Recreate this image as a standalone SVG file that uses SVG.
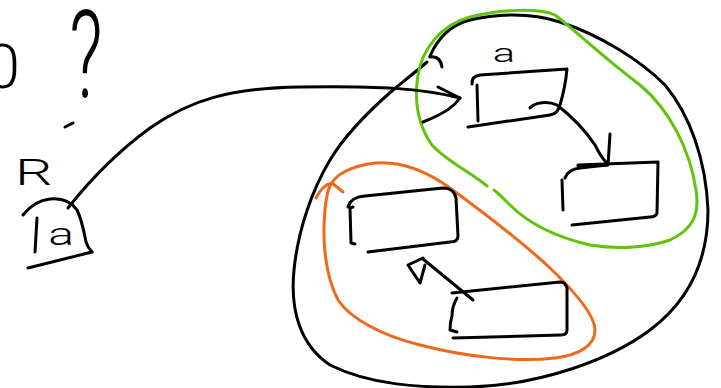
<svg xmlns="http://www.w3.org/2000/svg" width="721" height="388" viewBox="0 0 721 388">
<style>
.s{fill:none;stroke:#000;stroke-width:3;stroke-linecap:round;stroke-linejoin:round}
.g{fill:none;stroke:#5fc40a;stroke-width:3;stroke-linecap:round;stroke-linejoin:round}
.o{fill:none;stroke:#f0691a;stroke-width:3;stroke-linecap:round;stroke-linejoin:round}
.t{font-family:Roboto,"Liberation Sans",sans-serif;fill:#000;font-weight:300}
</style>
<rect width="721" height="388" fill="#fff"/>
<g id="scribbles">
<text class="t" x="20" y="88" font-size="62" text-anchor="end">0</text>
<text class="t" transform="translate(86,97) scale(0.6,1)" font-size="122" text-anchor="middle">?</text>
<path class="s" d="M65,127 L73,123"/>
</g>
<g id="container">
<path class="s" d="M427,62 C412,75 400,84 393,90 C370,110 345,135 330,160 C312,190 298,230 294,270 C290,310 300,345 330,365 C370,385 420,388 470,387 C540,385 610,360 650,330 C690,300 708,260 708,210 C706,160 690,115 665,85 C640,60 600,35 560,22 C530,12 495,14 470,20 C450,25 437,40 430,56"/>
<path class="s" d="M430,57 C437,56 441,60 442,67"/>
</g>
<g id="group-green">
<path class="g" d="M487,186 C470,172 445,160 432,145 C418,125 414,100 418,75 C422,50 440,25 470,17 C500,9 540,8 555,15 C575,30 600,55 640,85 C670,110 690,150 696,190 C700,215 692,230 670,240 C650,247 620,250 590,245 C560,238 530,225 510,205 C503,198 498,193 494,190"/>
</g>
<g id="group-orange">
<path class="o" d="M330,186 C335,175 350,166 375,163 C400,161 425,170 450,188 C480,210 520,240 550,268 C575,292 595,315 595,330 C595,345 580,355 555,358 C520,362 470,358 420,345 C380,335 350,318 338,300 C325,275 322,240 325,210 C326,198 328,190 330,186"/>
<path class="o" d="M316,198 C320,190 326,184 332,183 L343,192"/>
</g>
<g id="node-R">
<text class="t" transform="translate(15,185) scale(1.6,1)" font-size="37">R</text>
<path class="s" d="M23,215 C30,206 40,200 50,199 C60,198 70,200 77,210 C82,220 84,232 86,242 C88,248 90,250 92,252"/>
<path class="s" d="M28,268 L92,252"/>
<path class="s" d="M37,218 L35,252"/>
<text class="t" transform="translate(61,245) scale(1.5,1)" font-size="32" text-anchor="middle">a</text>
</g>
<g id="node-a">
<text class="t" transform="translate(504,62) scale(1.6,1)" font-size="26" text-anchor="middle">a</text>
<path class="s" d="M472,84 C472,78 474,76 480,75 L567,69 C566,80 563,95 560,105 C558,111 556,114 550,115 L468,127"/>
<path class="s" d="M477,85 L478,121"/>
</g>
<g id="node-b">
<path class="s" d="M565,178 C567,172 572,169 580,168 L607,165 M578,165 L658,162 L657,213 C656,216 654,217 650,217 L572,225"/>
<path class="s" d="M562,180 L563,210"/>
</g>
<g id="node-c">
<path class="s" d="M348,207 C350,200 355,197 365,196 L443,188 C450,188 455,192 456,198 L458,236 C458,240 455,242 450,242 L368,252"/>
<path class="s" d="M353,207 L350,208 L351,243 L355,244"/>
</g>
<g id="node-d">
<path class="s" d="M452,293 L560,282 C564,282 566,284 567,288 L567,330 C567,333 565,335 561,335 L453,338"/>
<path class="s" d="M457,298 C454,303 452,310 452,316 C450,322 450,327 450,330 L457,332"/>
</g>
<g id="connectors">
<path class="s" d="M68,208 C90,180 120,150 150,128 C190,100 230,88 300,87 C380,86 420,88 460,98"/>
<path class="s" d="M438,87 L460,98 C455,105 448,112 423,122"/>
<path class="s" d="M530,108 C535,102 548,101 557,105 C570,115 585,130 595,145 C600,155 603,160 608,164"/>
<path class="s" d="M610,134 L608,165 L578,166"/>
<path class="s" d="M473,300 L423,259"/>
<path class="s" d="M423,258 L408,265 L420,283 L425,265"/>
</g>
</svg>
